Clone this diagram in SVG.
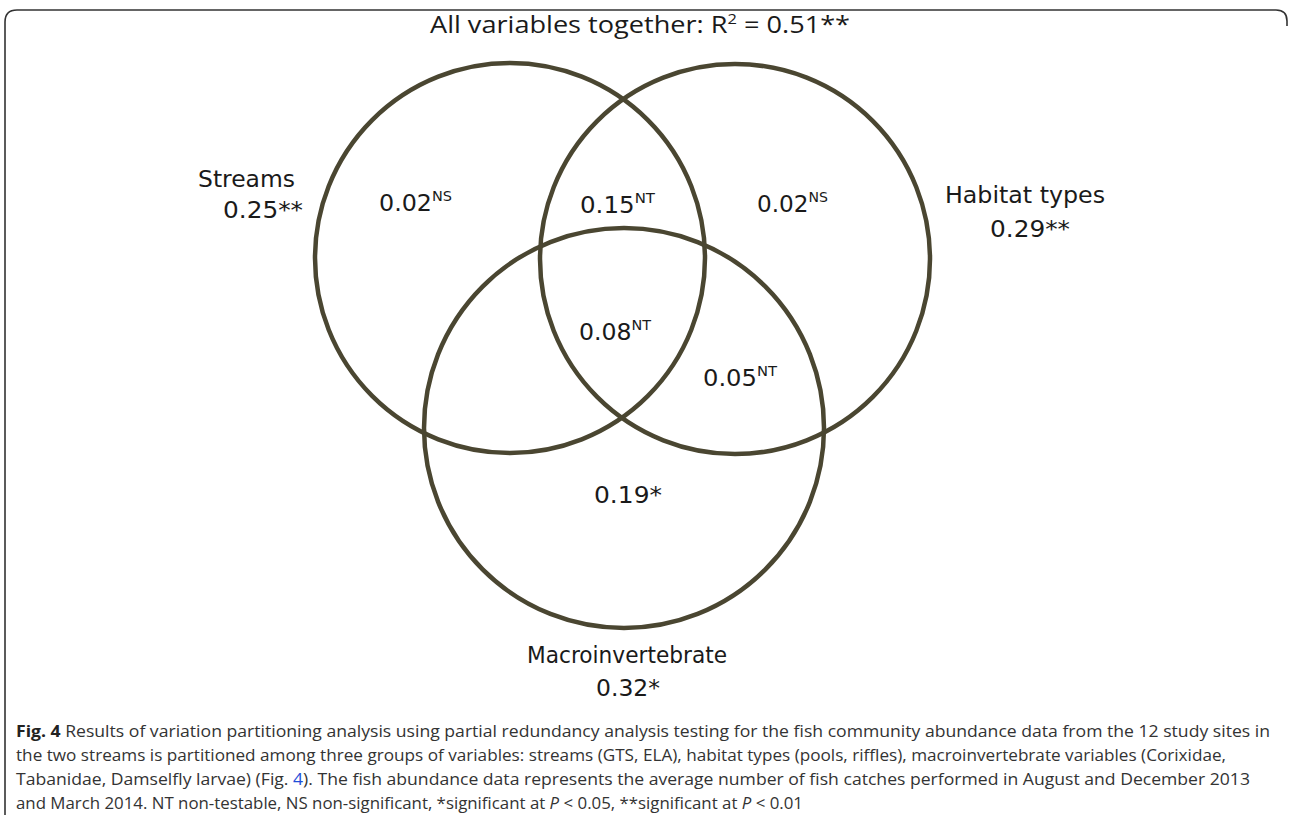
<svg xmlns="http://www.w3.org/2000/svg" width="1290" height="818" viewBox="0 0 1290 818">
<style>
.lbl{font-family:"DejaVu Sans","Open Sans",sans-serif;font-size:23px;fill:#1a1a1a}
.ttl{font-family:"Open Sans","Liberation Sans",sans-serif;font-size:23px;fill:#1a1a1a}
.sup{font-size:14px}
.cap{font-family:"Open Sans","Liberation Sans",sans-serif;font-size:16.5px;fill:#333}
.ring{fill:none;stroke:#4a4631;stroke-width:4.5}
</style>
<rect width="1290" height="818" fill="#fff"/>
<path d="M5,815 L5,22 Q5,10 17,10 L1276,10 Q1287,10 1287,21 L1287,26" fill="none" stroke="#333" stroke-width="1.6"/>
<text class="ttl" x="640" y="33" text-anchor="middle" textLength="420" lengthAdjust="spacingAndGlyphs">All variables together: R<tspan class="sup" dy="-9">2</tspan><tspan dy="9"> = 0.51**</tspan></text>
<g id="streams">
<circle class="ring" cx="510" cy="258" r="195"/>
<text class="lbl" x="198" y="187" textLength="97" lengthAdjust="spacingAndGlyphs">Streams</text>
<text class="lbl" x="223" y="218" textLength="80" lengthAdjust="spacingAndGlyphs">0.25**</text>
</g>
<g id="habitat">
<circle class="ring" cx="735" cy="259" r="195"/>
<text class="lbl" x="945" y="203" textLength="160" lengthAdjust="spacingAndGlyphs">Habitat types</text>
<text class="lbl" x="990" y="237" textLength="80" lengthAdjust="spacingAndGlyphs">0.29**</text>
</g>
<g id="macro">
<circle class="ring" cx="624" cy="428" r="200"/>
<text class="lbl" x="627" y="663" text-anchor="middle" textLength="200" lengthAdjust="spacingAndGlyphs">Macroinvertebrate</text>
<text class="lbl" x="628" y="696" text-anchor="middle" textLength="64" lengthAdjust="spacingAndGlyphs">0.32*</text>
</g>
<g id="values">
<text class="lbl" x="379" y="211" textLength="73" lengthAdjust="spacingAndGlyphs">0.02<tspan class="sup" dy="-10">NS</tspan></text>
<text class="lbl" x="757" y="212" textLength="71" lengthAdjust="spacingAndGlyphs">0.02<tspan class="sup" dy="-10">NS</tspan></text>
<text class="lbl" x="580" y="213" textLength="75" lengthAdjust="spacingAndGlyphs">0.15<tspan class="sup" dy="-10">NT</tspan></text>
<text class="lbl" x="579" y="340" textLength="72" lengthAdjust="spacingAndGlyphs">0.08<tspan class="sup" dy="-10">NT</tspan></text>
<text class="lbl" x="703" y="386" textLength="74" lengthAdjust="spacingAndGlyphs">0.05<tspan class="sup" dy="-10">NT</tspan></text>
<text class="lbl" x="628" y="503" text-anchor="middle" textLength="68" lengthAdjust="spacingAndGlyphs">0.19*</text>
</g>
<g id="caption">
<text class="cap" x="16" y="737" textLength="1254" lengthAdjust="spacingAndGlyphs"><tspan font-weight="bold" fill="#222">Fig. 4</tspan> Results of variation partitioning analysis using partial redundancy analysis testing for the fish community abundance data from the 12 study sites in</text>
<text class="cap" x="16" y="761" textLength="1210" lengthAdjust="spacingAndGlyphs">the two streams is partitioned among three groups of variables: streams (GTS, ELA), habitat types (pools, riffles), macroinvertebrate variables (Corixidae,</text>
<text class="cap" x="16" y="785" textLength="1234" lengthAdjust="spacingAndGlyphs">Tabanidae, Damselfly larvae) (Fig. <tspan fill="#1f4fd8">4</tspan>). The fish abundance data represents the average number of fish catches performed in August and December 2013</text>
<text class="cap" x="16" y="809" textLength="787" lengthAdjust="spacingAndGlyphs">and March 2014. NT non-testable, NS non-significant, *significant at <tspan font-style="italic">P</tspan> &lt; 0.05, **significant at <tspan font-style="italic">P</tspan> &lt; 0.01</text>
</g>
</svg>
